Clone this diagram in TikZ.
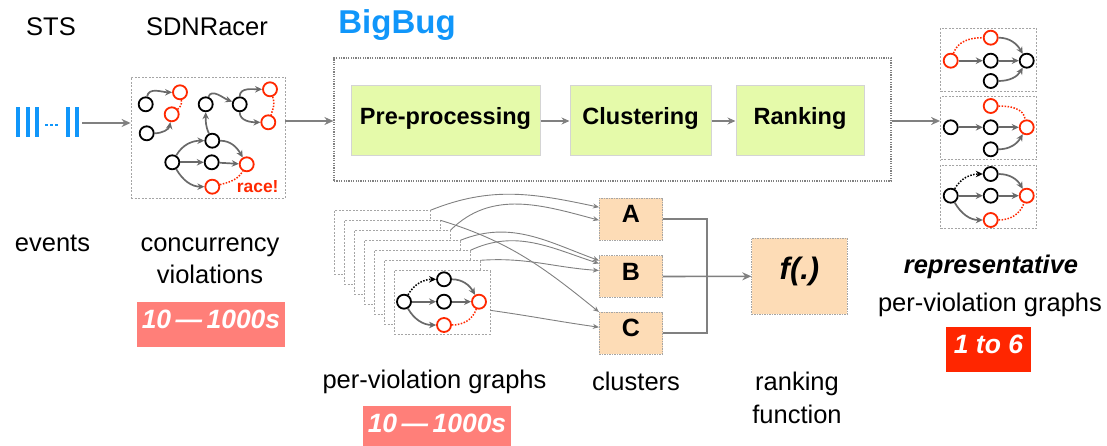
\documentclass[tikz,border=0pt]{standalone}
\usepackage{fontspec}
\setmainfont{Liberation Sans}
\usetikzlibrary{arrows.meta}

\definecolor{bugblue}{RGB}{16,150,250}
\definecolor{racered}{RGB}{255,40,0}
\definecolor{edgegray}{RGB}{105,105,105}
\definecolor{linegray}{RGB}{128,128,128}
\definecolor{boxgray}{RGB}{165,165,165}
\definecolor{stagegreen}{RGB}{229,250,170}
\definecolor{stageedge}{RGB}{212,212,212}
\definecolor{peach}{RGB}{253,220,182}
\definecolor{salmon}{RGB}{255,127,121}
\definecolor{hotred}{RGB}{255,38,0}

\begin{document}
\begin{tikzpicture}[x=1pt,y=1pt,
  lbl/.style={font=\fontsize{25.5}{30}\selectfont, inner sep=0, anchor=base},
  bn/.style={circle, draw=black, line width=1.8, minimum size=14, inner sep=0, fill=white},
  rn/.style={bn, draw=racered},
  ge/.style={draw=edgegray, line width=1.7, -{Stealth[length=7,width=6.5]}},
  rdot/.style={draw=racered, line width=1.5, dash pattern=on 1.5 off 1.5},
  bdot/.style={draw=black, line width=1.5, dash pattern=on 1.5 off 1.5, -{Stealth[length=7,width=6.5]}},
  frame/.style={draw=boxgray, line width=0.8, dash pattern=on 2 off 1.5, inner sep=0},
  panel/.style={frame, fill=white, minimum width=96, minimum height=63.3},
  flow/.style={draw=linegray, line width=1.6, -{Stealth[length=9,width=8]}},
  thin flow/.style={draw=linegray, line width=1.3, -{Stealth[length=8,width=7]}},
  feed/.style={draw=linegray, line width=0.9, -{Stealth[length=6,width=5]}},
  stage/.style={fill=stagegreen, draw=stageedge, line width=1, minimum height=70, inner sep=0,
    text height=0.72em, text depth=0pt, font=\bfseries\fontsize{23.5}{28}\selectfont},
  cluster/.style={fill=peach, draw=boxgray, line width=0.8, dash pattern=on 1.5 off 1, inner sep=0,
    text height=0.72em, text depth=0pt, font=\bfseries\fontsize{25}{30}\selectfont},
  tag/.style={text=white, inner sep=0, text height=0.72em, text depth=0pt,
    font=\bfseries\itshape\fontsize{26.5}{30}\selectfont},
]
\useasboundingbox (0,0) rectangle (1107,-446);

% ---------- column titles ----------
\node[lbl] (sts) at (51,-36) {STS};
\node[lbl] (racer) at (207,-36) {SDNRacer};
\node[lbl, font=\bfseries\fontsize{33}{36}\selectfont, text=bugblue] (bigbug) at (397,-34) {BigBug};

% ---------- event stream ----------
\foreach \x in {17.6,28,37.2,68.4,76.7}
  \fill[bugblue] (\x-2,-107.5) rectangle (\x+2,-137.5);
\foreach \x in {46.5,51.5,56.5}
  \fill[bugblue] (\x-1.2,-123.8) rectangle (\x+1.2,-126.2);
\coordinate (evR) at (82,-123);

% ---------- SDNRacer violations ----------
\node[frame, minimum width=154, minimum height=121] (sdn) at (208,-137.5) {};
\node[bn] (a1) at (145.7,-104.3) {};
\node[rn] (r1) at (180,-92.3) {};
\node[rn] (r2) at (171.7,-114.3) {};
\node[bn] (a2) at (146.7,-133.3) {};
\node[bn] (a3) at (205.7,-104.3) {};
\node[bn] (a4) at (239.7,-104.3) {};
\node[rn] (r3) at (270,-89.3) {};
\node[rn] (r4) at (268.3,-122.3) {};
\node[bn] (a5) at (212.3,-140.7) {};
\node[bn] (a6) at (172.3,-162.3) {};
\node[bn] (a7) at (211.7,-162.3) {};
\node[rn] (r5) at (246.7,-164.3) {};
\node[rn] (r6) at (212.3,-186.7) {};
\node[anchor=base, inner sep=0, text=racered, font=\bfseries\fontsize{17.4}{20}\selectfont] (race) at (257.7,-192.5) {race!};

\draw[ge] (a1) to[out=80,in=180] (r1);
\draw[ge] (a2) to[out=0,in=-100] (r2);
\draw[rdot] (r1) to[out=-80,in=40] (r2);
\draw[ge] (a3) to[out=70,in=160] (a4);
\draw[ge] (a4) to[out=90,in=180] (r3);
\draw[ge] (a4) to[out=-90,in=180] (r4);
\draw[rdot] (r3) to[out=-70,in=70] (r4);
\draw[ge] (a5) to[out=115,in=-90] (a3);
\draw[ge] (a6) to[out=60,in=180] (a5);
\draw[ge] (a6) -- (a7);
\draw[ge] (a7) -- (r5);
\draw[ge] (a5) to[out=0,in=120] (r5);
\draw[ge] (a6) to[out=-60,in=180] (r6);
\draw[rdot] (r6) to[out=15,in=-120] (r5);

% ---------- BigBug pipeline ----------
\node[draw=linegray, line width=1.2, dash pattern=on 1.2 off 1.2, minimum width=557, minimum height=123, inner sep=0] (big) at (612.5,-119.5) {};
\node[stage, minimum width=189] (pre) at (445.5,-121) {Pre-processing};
\node[stage, minimum width=141] (clu) at (640.5,-121) {Clustering};
\node[stage, minimum width=128] (rank) at (800,-121) {Ranking};
\draw[thin flow] (pre) -- (clu);
\draw[thin flow] (clu) -- (rank);

\draw[flow] (evR) -- (evR -| sdn.west);
\draw[flow] (sdn.east |- pre.west) -- (big.west |- pre.west);

% ---------- representative graphs ----------
\node[panel] (pan1) at (988.5,-59.7) {};
\node[panel] (pan2) at (988.5,-128) {};
\node[panel] (pan3) at (988.5,-196.7) {};
\draw[flow] (big.east |- pre.east) -- (pan2.west |- pre.east);

\node[rn] (p1L) at (950.7,-60.7) {};
\node[rn] (p1T) at (990.7,-37.7) {};
\node[bn] (p1M) at (990.7,-60.7) {};
\node[bn] (p1B) at (990.7,-81) {};
\node[bn] (p1R) at (1026.7,-60.7) {};
\draw[rdot] (p1L) to[out=70,in=180] (p1T);
\draw[ge] (p1L) -- (p1M);
\draw[ge] (p1M) -- (p1R);
\draw[ge] (p1T) to[out=0,in=120] (p1R);
\draw[ge] (p1B) to[out=0,in=-120] (p1R);

\node[bn] (p2L) at (950.7,-127.3) {};
\node[rn] (p2T) at (990.7,-106) {};
\node[bn] (p2M) at (990.7,-127.3) {};
\node[bn] (p2B) at (990.7,-149.3) {};
\node[rn] (p2R) at (1026.7,-127.3) {};
\draw[ge] (p2L) -- (p2M);
\draw[ge] (p2M) -- (p2R);
\draw[ge] (p2B) to[out=0,in=-120] (p2R);
\draw[rdot] (p2T) to[out=0,in=100] (p2R);

\node[bn] (p3L) at (950.7,-195.7) {};
\node[bn] (p3T) at (990.7,-174) {};
\node[bn] (p3M) at (990.7,-195.7) {};
\node[rn] (p3B) at (990.7,-220) {};
\node[rn] (p3R) at (1026.7,-195.7) {};
\draw[bdot] (p3L) to[out=60,in=180] (p3T);
\draw[ge] (p3L) -- (p3M);
\draw[ge] (p3M) -- (p3R);
\draw[ge] (p3T) to[out=0,in=120] (p3R);
\draw[ge] (p3L) to[out=-60,in=180] (p3B);
\draw[rdot] (p3B) to[out=0,in=-110] (p3R);

% ---------- stack of per-violation graphs ----------
\foreach \k in {6,5,...,1}
  \node[panel] (st\k) at ({442-10*\k},{-302.35+10*\k}) {};
\node[panel] (st0) at (442,-302.35) {};
\node[bn] (qL) at (404,-301.7) {};
\node[bn] (qT) at (444,-279.3) {};
\node[bn] (qM) at (444,-301.7) {};
\node[rn] (qB) at (444,-325) {};
\node[rn] (qR) at (479,-301.7) {};
\draw[bdot] (qL) to[out=60,in=180] (qT);
\draw[ge] (qL) -- (qM);
\draw[ge] (qM) -- (qR);
\draw[ge] (qT) to[out=0,in=120] (qR);
\draw[ge] (qL) to[out=-60,in=180] (qB);
\draw[rdot] (qB) to[out=0,in=-110] (qR);

% ---------- clusters and ranking function ----------
\node[cluster, minimum width=63.4, minimum height=41.7] (A) at (631,-219.2) {A};
\node[cluster, minimum width=63.4, minimum height=41.7] (B) at (631,-276.5) {B};
\node[cluster, minimum width=63.4, minimum height=41.7] (C) at (631,-333.2) {C};
\node[cluster, minimum width=95.6, minimum height=76, font=\bfseries\itshape\fontsize{31}{34}\selectfont] (f) at (799.5,-276.3) {f(.)};

\draw[feed] (st6.north east) to[out=22,in=168] ([yshift=12]A.west);
\draw[feed] (st5.north east) to[out=-17,in=141] (C.north west);
\draw[feed] (st4.north east) to[out=45,in=165] ([yshift=-1]A.west);
\draw[feed] (st3.north east) to[out=22,in=160] ([yshift=16]B.west);
\draw[feed] (st2.north east) to[out=25,in=162] ([yshift=13]B.west);
\draw[feed] (st1.north east) to[out=4,in=176] ([yshift=6]B.west);
\draw[feed] ([yshift=-8]st0.east) to[out=-8,in=172] ([yshift=6]C.west);

\coordinate (jn) at (706.7,-276.5);
\draw[draw=linegray, line width=1.6] (A.east) -| (jn);
\draw[draw=linegray, line width=1.6] (C.east) -| (jn);
\draw[flow] (B.east) -- (f.west);

% ---------- captions ----------
\node[lbl] (events) at (52.5,-251.7) {events};
\node[lbl] (conc) at (210,-251.7) {concurrency};
\node[lbl] (viol) at (210,-283.3) {violations};
\node[tag, fill=salmon, minimum width=148, minimum height=44.5] (cntA) at (211,-324.5) {10\,—\,1000s};

\node[lbl] (pvg) at (434.5,-388.3) {per-violation graphs};
\node[tag, fill=salmon, minimum width=148, minimum height=45] (cntB) at (437,-428.5) {10\,—\,1000s};

\node[lbl] (clus) at (636,-390.5) {clusters};
\node[lbl] (rk) at (797,-390.5) {ranking};
\node[lbl] (fn) at (797,-423) {function};

\node[lbl, font=\bfseries\itshape\fontsize{25.5}{30}\selectfont] (rep) at (991,-273.3) {representative};
\node[lbl] (rpvg) at (990,-311) {per-violation graphs};
\node[tag, fill=hotred, minimum width=85, minimum height=45] (cntC) at (988.5,-349.5) {1 to 6};
\end{tikzpicture}
\end{document}
